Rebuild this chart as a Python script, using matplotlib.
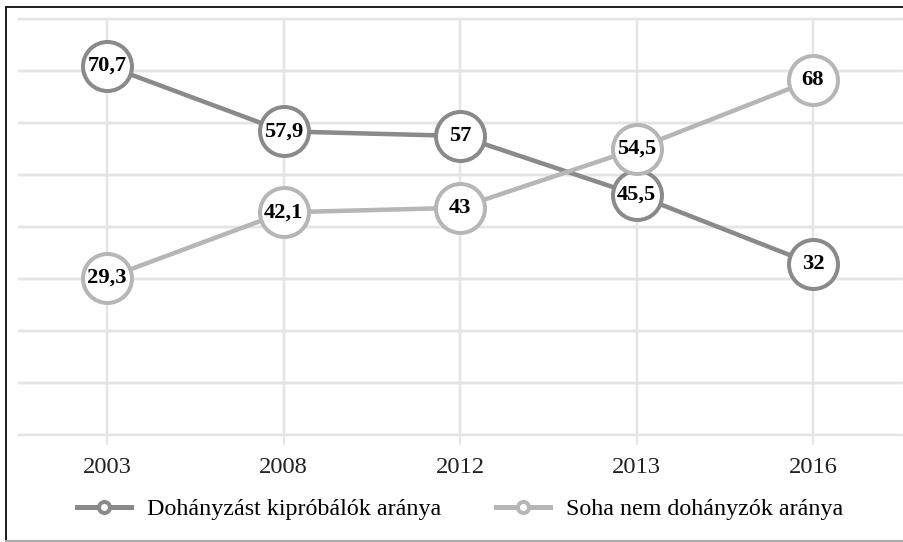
import matplotlib
matplotlib.use("Agg")
import matplotlib.pyplot as plt
from matplotlib.lines import Line2D
import numpy as np

years = ["2003", "2008", "2012", "2013", "2016"]
tried = [70.7, 57.9, 57, 45.5, 32]
never = [29.3, 42.1, 43, 54.5, 68]
labels_tried = ["70,7", "57,9", "57", "45,5", "32"]
labels_never = ["29,3", "42,1", "43", "54,5", "68"]
series_names = ["Dohányzást kipróbálók aránya", "Soha nem dohányzók aránya"]

c_dark = "#8a8a8a"
c_light = "#b6b6b6"
grid_c = "#e5e5e5"

plt.rcParams['font.family'] = ['Liberation Serif', 'DejaVu Serif']

W, H = 904, 542
dpi = 100
fig = plt.figure(figsize=(W / dpi, H / dpi), dpi=dpi)
px = 72 / dpi  # points per pixel

ax_l, ax_r = 18.75, 901.25
ax_t, ax_b = 19, 435
ax = fig.add_axes([ax_l / W, (H - ax_b) / H, (ax_r - ax_l) / W, (ax_b - ax_t) / H])

ymin, ymax = -1.3, 79.8
ax.set_ylim(ymin, ymax)
ax.set_xlim(-0.5, 4.5)
x = np.arange(len(years))

for s in ax.spines.values():
    s.set_visible(False)

ax.set_yticks(np.linspace(ymin, ymax, 9))
ax.set_yticklabels([])
ax.tick_params(axis='y', length=0)
ax.set_xticks(x)
ax.set_xticklabels(years, fontsize=24.5 * px, color="#222222")
ax.tick_params(axis='x', length=7, width=2 * px, color=grid_c, pad=12 * px)
ax.grid(True, color=grid_c, linewidth=2.5 * px, zorder=0)
ax.set_axisbelow(True)
for yv in np.linspace(ymin, ymax, 9):
    ax.axhline(yv, xmin=0, xmax=1.01, color=grid_c, linewidth=2.5 * px, zorder=0, clip_on=False)

ms = 49 * px
mew = 4 * px
lw = 4.5 * px
for vals, labs, col, z in [(tried, labels_tried, c_dark, 3), (never, labels_never, c_light, 5)]:
    ax.plot(x, vals, color=col, linewidth=lw, marker='o', markersize=ms,
            markerfacecolor='white', markeredgecolor=col, markeredgewidth=mew,
            zorder=z, clip_on=False)
    for xi, v, t in zip(x, vals, labs):
        ax.text(xi, v, t, ha='center', va='center', fontsize=22.5 * px,
                fontweight='bold', color='black', zorder=z + 1)

handles = [
    Line2D([], [], color=c_dark, linewidth=5 * px, marker='o', markersize=11 * px,
           markerfacecolor='white', markeredgecolor=c_dark, markeredgewidth=4 * px),
    Line2D([], [], color=c_light, linewidth=5 * px, marker='o', markersize=11 * px,
           markerfacecolor='white', markeredgecolor=c_light, markeredgewidth=4 * px),
]
fig.legend(handles, series_names, loc='center', bbox_to_anchor=(460 / W, (H - 509) / H),
           ncol=2, frameon=False, fontsize=24 * px, handlelength=2.25,
           handletextpad=0.67, columnspacing=2.3, borderpad=0, borderaxespad=0)

fig.add_artist(Line2D([6 / W, 1], [1 - 6.5 / H, 1 - 6.5 / H], color="#222222", linewidth=2 * px))
fig.add_artist(Line2D([6 / W, 6 / W], [1 - 6.5 / H, 1 - 541 / H], color="#222222", linewidth=2 * px))
fig.add_artist(Line2D([6 / W, 1], [1 - 541 / H, 1 - 541 / H], color="#aaaaaa", linewidth=2 * px))

fig.savefig("out.png", dpi=dpi)
